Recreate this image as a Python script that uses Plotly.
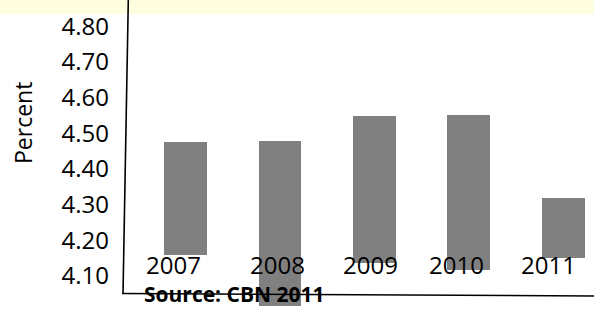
import plotly.graph_objects as go

years = ["2007", "2008", "2009", "2010", "2011"]
bar_top = [4.475, 4.478, 4.548, 4.551, 4.319]
bar_base = [4.160, 4.015, 4.137, 4.117, 4.151]
y_ticks = [4.10, 4.20, 4.30, 4.40, 4.50, 4.60, 4.70, 4.80]
y_tick_text = ["4.10", "4.20", "4.30", "4.40", "4.50", "4.60", "4.70", "4.80"]
label_shift = [-12.5, -2.5, -4, -12, -15]

W, H = 594, 309
ML, MT = 122, 14
PW, PH = W - ML, H - MT

def px(x):
    return (x - ML) / PW

def py(y):
    return 1 - (y - MT) / PH

FONT = "Open Sans"

fig = go.Figure()
fig.add_trace(go.Bar(
    x=list(range(len(years))),
    y=[t - b for t, b in zip(bar_top, bar_base)],
    base=bar_base,
    width=0.455,
    marker=dict(color="#808080", line=dict(width=0)),
    hoverinfo="skip",
))

annotations = []
for i, (yr, sh) in enumerate(zip(years, label_shift)):
    annotations.append(dict(x=i, y=4.131, xref="x", yref="y", text=yr,
                            showarrow=False, xshift=sh, xanchor="center",
                            yanchor="middle",
                            font=dict(family=FONT, size=24, color="black")))
annotations.append(dict(x=px(23), y=py(123), xref="paper", yref="paper",
                        text="Percent", textangle=-90, showarrow=False,
                        xanchor="center", yanchor="middle",
                        font=dict(family=FONT, size=23, color="black")))
annotations.append(dict(x=px(143), y=0, xref="paper", yref="paper",
                        text="<b>Source: CBN 2011</b>", showarrow=False,
                        xanchor="left", yanchor="bottom", borderpad=0,
                        font=dict(family=FONT, size=21, color="black")))

shapes = [
    dict(type="rect", xref="paper", yref="paper", x0=px(0), x1=1,
         y0=py(14), y1=py(0), fillcolor="#FFFDE0", line=dict(width=0),
         layer="below"),
    dict(type="line", xref="paper", yref="paper", x0=px(128.3), y0=py(0),
         x1=px(123), y1=py(294), line=dict(color="black", width=1.6),
         layer="above"),
    dict(type="line", xref="paper", yref="paper", x0=px(122), y0=py(293.5),
         x1=px(594), y1=py(296), line=dict(color="black", width=1.6),
         layer="above"),
]

fig.update_layout(
    width=W, height=H,
    margin=dict(l=ML, r=0, t=MT, b=0),
    paper_bgcolor="white", plot_bgcolor="rgba(0,0,0,0)",
    showlegend=False,
    bargap=0,
    xaxis=dict(range=[-0.672, 4.323], showticklabels=False, showgrid=False,
               zeroline=False, showline=False, fixedrange=True),
    yaxis=dict(range=[4.0076, 4.834], tickvals=y_ticks, ticktext=y_tick_text,
               showgrid=False, zeroline=False, showline=False,
               ticks="", ticklabelstandoff=12, fixedrange=True,
               tickfont=dict(family=FONT, size=24, color="black")),
    annotations=annotations,
    shapes=shapes,
)

fig.write_html("out.html",
               config={"displayModeBar": False},
               post_script="document.body.style.margin='0';document.body.style.overflow='hidden';")
